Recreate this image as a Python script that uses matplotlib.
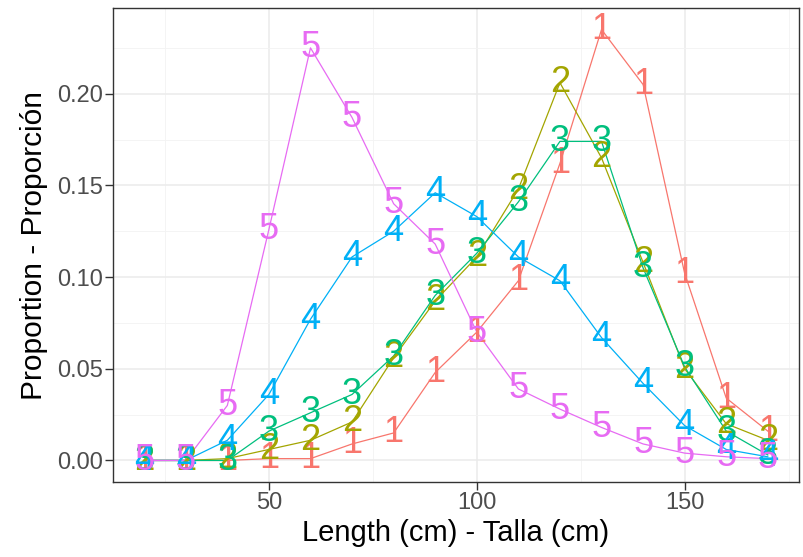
import numpy as np
import matplotlib
matplotlib.use("Agg")
from matplotlib import pyplot as plt
from matplotlib.ticker import MultipleLocator

# length classes (cm)
length = [20, 30, 40, 50, 60, 70, 80, 90, 100, 110, 120, 130, 140, 150, 160, 170]

# proportions per group
p1 = [0.0, 0.0, 0.0, 0.001, 0.001, 0.009, 0.015, 0.048, 0.070, 0.098, 0.162, 0.235, 0.205, 0.102, 0.034, 0.016]
p2 = [0.0, 0.0, 0.001, 0.006, 0.011, 0.021, 0.056, 0.087, 0.111, 0.148, 0.206, 0.165, 0.108, 0.050, 0.020, 0.011]
p3 = [0.0, 0.0, 0.0, 0.016, 0.026, 0.036, 0.057, 0.090, 0.113, 0.141, 0.174, 0.174, 0.105, 0.051, 0.016, 0.003]
p4 = [0.0, 0.0, 0.011, 0.036, 0.077, 0.111, 0.125, 0.146, 0.133, 0.111, 0.098, 0.067, 0.042, 0.019, 0.006, 0.002]
p5 = [0.0, 0.0, 0.030, 0.126, 0.225, 0.187, 0.140, 0.118, 0.070, 0.039, 0.028, 0.018, 0.009, 0.004, 0.002, 0.001]

groups = ["1", "2", "3", "4", "5"]
series = [p1, p2, p3, p4, p5]
colors = ["#F8766D", "#A3A500", "#00BF7D", "#00B0F6", "#E76BF3"]

plt.rcParams["font.family"] = ["Liberation Sans", "DejaVu Sans"]

fig = plt.figure(figsize=(8.04, 5.57), dpi=100)
ax = fig.add_axes([113 / 804, 1 - 482 / 557, (799 - 113) / 804, (482 - 8) / 557])

# lines first, then the labels (like geom_line + geom_text)
for vals, c in zip(series, colors):
    ax.plot(length, vals, color=c, lw=0.9, zorder=3)
for g, vals, c in zip(groups, series, colors):
    for x, y in zip(length, vals):
        ax.text(x, y, g, color=c, fontsize=26, ha="center", va="center", zorder=4)

ymax = max(max(s) for s in series)
ax.set_xlim(20 - 150 * 0.05, 170 + 150 * 0.05)
ax.set_ylim(-ymax * 0.05, ymax * 1.05)

ax.xaxis.set_major_locator(MultipleLocator(50))
ax.xaxis.set_minor_locator(MultipleLocator(25))
ax.yaxis.set_major_locator(MultipleLocator(0.05))
ax.yaxis.set_minor_locator(MultipleLocator(0.025))
ax.yaxis.set_major_formatter("{x:.2f}")

ax.grid(which="major", color="#EBEBEB", lw=1.1, zorder=0)
ax.grid(which="minor", color="#F3F3F3", lw=0.6, zorder=0)
ax.set_axisbelow(True)

for s in ax.spines.values():
    s.set_color("#333333")
    s.set_linewidth(1.0)

ax.tick_params(which="major", length=6, width=1.0, color="#333333",
               labelsize=17, labelcolor="#4D4D4D", pad=1.5)
ax.tick_params(which="minor", length=0)

ax.set_xlabel("Length (cm) - Talla (cm)", fontsize=21, color="black", labelpad=3)
ax.set_ylabel("Proportion - Proporción", fontsize=21.5, color="black", labelpad=6)

fig.savefig("out.png", dpi=100)
